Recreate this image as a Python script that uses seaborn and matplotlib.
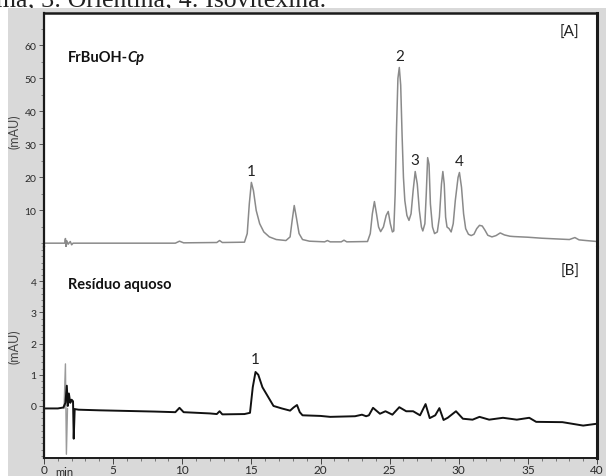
import matplotlib
matplotlib.use("Agg")
import matplotlib.pyplot as plt
from matplotlib.patches import Rectangle
from matplotlib.ticker import MultipleLocator
import seaborn as sns
import pandas as pd

# Panel A: FrBuOH-Cp chromatogram (time in min, absorbance in mAU)
times_a = [0.0, 1.4, 1.5, 1.55, 1.6, 1.65, 1.75, 1.9, 2.0, 2.1, 5.0, 9.5, 9.8, 10.1,
           12.5, 12.7, 12.9, 14.5, 14.7, 14.85, 15.0, 15.15, 15.35, 15.6, 15.9, 16.3,
           16.8, 17.5, 17.8, 17.95, 18.1, 18.25, 18.45, 18.7, 19.2, 20.3, 20.5, 20.7,
           21.5, 21.7, 21.9, 23.4, 23.6, 23.75, 23.9, 24.05, 24.2, 24.35, 24.55, 24.75,
           24.9, 25.05, 25.2, 25.3, 25.4, 25.5, 25.6, 25.7, 25.8, 25.9, 26.0, 26.1,
           26.25, 26.4, 26.55, 26.7, 26.85, 27.0, 27.15, 27.3, 27.4, 27.55, 27.65,
           27.75, 27.85, 27.95, 28.1, 28.25, 28.45, 28.6, 28.75, 28.85, 28.95, 29.05,
           29.15, 29.3, 29.45, 29.6, 29.75, 29.95, 30.05, 30.2, 30.35, 30.5, 30.7,
           30.9, 31.1, 31.3, 31.5, 31.7, 31.9, 32.1, 32.4, 32.7, 33.0, 33.3, 33.7,
           34.0, 35.0, 36.0, 37.0, 38.0, 38.4, 38.7, 39.2, 40.0]
mau_a = [0.1, 0.1, 0.1, 1.5, -1.0, 0.8, -0.2, 0.6, -0.4, 0.1, 0.1, 0.1, 0.7, 0.2,
         0.3, 0.9, 0.3, 0.4, 3.0, 12.0, 18.5, 16.0, 10.0, 6.0, 3.5, 2.0,
         1.2, 0.9, 2.0, 7.0, 11.5, 8.0, 3.0, 1.2, 0.7, 0.5, 0.9, 0.5,
         0.5, 1.0, 0.5, 0.6, 3.0, 9.0, 12.7, 9.0, 5.0, 3.6, 5.0, 8.5,
         9.7, 6.0, 3.5, 3.8, 15.0, 35.0, 50.0, 53.3, 48.0, 33.0, 20.0, 13.0,
         8.5, 7.0, 9.0, 16.0, 21.8, 18.0, 10.0, 5.0, 3.8, 6.0, 15.0,
         26.0, 24.0, 12.0, 5.0, 3.0, 3.5, 8.0, 18.0, 21.8, 18.0, 8.0,
         5.0, 4.5, 3.5, 6.0, 13.0, 20.0, 21.5, 17.0, 9.0, 4.5, 2.8,
         2.4, 2.8, 4.5, 5.5, 5.3, 4.0, 2.5, 2.0, 2.4, 3.2, 2.6, 2.2,
         2.1, 1.9, 1.6, 1.4, 1.2, 1.8, 1.1, 0.9, 0.6]

# Panel B: aqueous residue chromatogram
times_b = [0.0, 1.0, 1.4, 1.55, 1.65, 1.72, 1.8, 1.9, 2.0, 2.1, 2.15, 2.22, 2.5,
           4.0, 6.0, 8.0, 9.5, 9.8, 10.1, 12.0, 12.5, 12.7, 12.9, 14.5, 14.9,
           15.1, 15.3, 15.5, 15.8, 16.2, 16.6, 17.2, 17.8, 18.05, 18.3, 18.5, 18.7,
           20.0, 20.7, 22.5, 23.0, 23.3, 23.5, 23.8, 24.3, 24.7, 25.2, 25.7, 26.2,
           26.7, 27.2, 27.6, 27.9, 28.3, 28.6, 28.9, 29.2, 29.8, 30.3, 31.0, 31.5,
           32.2, 33.2, 34.2, 35.1, 35.6, 37.5, 39.0, 40.0]
mau_b = [-0.08, -0.08, -0.05, 0.1, 0.65, 0.0, 0.4, 0.1, 0.2, 0.15, -1.05, -0.1, -0.12,
         -0.14, -0.16, -0.18, -0.2, -0.06, -0.2, -0.24, -0.26, -0.17, -0.27, -0.26, -0.22,
         0.6, 1.09, 1.0, 0.6, 0.3, 0.0, -0.08, -0.15, -0.05, 0.03, -0.2, -0.3,
         -0.32, -0.35, -0.33, -0.28, -0.33, -0.3, -0.06, -0.25, -0.17, -0.28, -0.04, -0.17,
         -0.17, -0.3, 0.06, -0.39, -0.3, -0.07, -0.45, -0.38, -0.17, -0.41, -0.44, -0.35,
         -0.44, -0.38, -0.44, -0.38, -0.51, -0.52, -0.63, -0.57]

# Injection artefact on the reference channel shown in panel B
times_b_ref = [1.45, 1.55, 1.62, 1.7]
mau_b_ref = [-0.08, 1.35, -1.55, -0.08]

# Numbered peaks: (label, time, height)
peaks_a_labels = ["1", "2", "3", "4"]
peaks_a_times = [15.0, 25.7, 26.85, 30.05]
peaks_a_heights = [18.5, 53.3, 21.8, 21.5]
peaks_b_labels = ["1"]
peaks_b_times = [15.3]
peaks_b_heights = [1.09]

x_ticks = [0, 5, 10, 15, 20, 25, 30, 35, 40]
y_ticks_a = [10, 20, 30, 40, 50, 60]
y_ticks_b = [0, 1, 2, 3, 4]

sns.set_style("ticks")
plt.rcParams["font.family"] = ["Lato", "DejaVu Sans"]

W, H = 606, 477
fig = plt.figure(figsize=(W / 100, H / 100), dpi=100)
fig.patch.set_facecolor("#d9d9d9")

# white page margin above and to the left of the grey panel
top_strip = Rectangle((0, 1 - 8.5 / H), 1, 8.5 / H, transform=fig.transFigure,
                      facecolor="white", edgecolor="none", zorder=0.5)
left_strip = Rectangle((0, 0), 8 / W, 1, transform=fig.transFigure,
                       facecolor="white", edgecolor="none", zorder=0.5)
fig.add_artist(top_strip)
fig.add_artist(left_strip)
cap = fig.text(-4 / W, 1 - 7 / H, "ma; 3: Orientina; 4: Isovitexina.",
               family="Liberation Serif", fontsize=18.5, va="baseline", ha="left",
               color="#222222", zorder=1)
cap.set_clip_path(top_strip)

left = 44 / W
width = (597 - 44) / W
y_mid = 248
ax_a = fig.add_axes([left, 1 - y_mid / H, width, (y_mid - 14) / H])
ax_b = fig.add_axes([left, 1 - 459 / H, width, (459 - y_mid) / H], sharex=ax_a)

df_a = pd.DataFrame({"t": times_a, "mAU": mau_a})
df_b = pd.DataFrame({"t": times_b, "mAU": mau_b})
df_ref = pd.DataFrame({"t": times_b_ref, "mAU": mau_b_ref})

sns.lineplot(data=df_a, x="t", y="mAU", ax=ax_a, color="#8a8a8a", lw=1.1,
             estimator=None)
sns.lineplot(data=df_ref, x="t", y="mAU", ax=ax_b, color="#9a9a9a", lw=1.0,
             estimator=None, sort=False)
sns.lineplot(data=df_b, x="t", y="mAU", ax=ax_b, color="#111111", lw=1.4,
             estimator=None)

ax_a.set_xlim(0, 40)
ax_a.set_ylim(-1.06, 69.8)
ax_b.set_ylim(-1.67, 5.1)

ax_a.set_yticks(y_ticks_a)
ax_a.yaxis.set_minor_locator(MultipleLocator(5))
ax_b.set_yticks(y_ticks_b)
ax_b.yaxis.set_minor_locator(MultipleLocator(0.2))

spine_col = "#1a1a1a"
for ax in (ax_a, ax_b):
    ax.set_facecolor("white")
    ax.set_xlabel("")
    for s in ax.spines.values():
        s.set_color(spine_col)
    ax.spines["left"].set_linewidth(1.6)
    ax.spines["right"].set_linewidth(2.2)
    ax.tick_params(axis="y", which="major", length=3.5, width=0.7, colors="#555555",
                   labelsize=7.5, labelcolor="#2a2a2a", pad=2)
    ax.tick_params(axis="y", which="minor", length=2.5, width=0.6, colors="#777777")

ax_a.spines["bottom"].set_visible(False)
ax_a.spines["top"].set_linewidth(1.8)
ax_b.spines["top"].set_visible(False)
ax_b.spines["bottom"].set_linewidth(1.4)

ax_a.tick_params(axis="x", which="both", bottom=False, labelbottom=False)
ax_b.set_xticks(x_ticks)
ax_b.xaxis.set_minor_locator(MultipleLocator(1))
ax_b.tick_params(axis="x", which="major", length=4, width=0.7, colors="#444444",
                 labelsize=8.5, labelcolor="#2a2a2a", pad=0.5)
ax_b.tick_params(axis="x", which="minor", length=2.5, width=0.6, colors="#666666")

ax_b.text(0.8, -0.038, "min", transform=ax_b.get_xaxis_transform(), ha="left",
          va="top", fontsize=8, color="#2a2a2a")

for ax, yc in ((ax_a, 0.496), (ax_b, 0.53)):
    ax.set_ylabel("(mAU)", fontsize=9, color="#444444")
    ax.yaxis.set_label_coords(-0.042, yc)

# panel titles and tags
title_a = ax_a.text(0.043, 0.812, "FrBuOH-", transform=ax_a.transAxes,
                    fontsize=10.5, fontweight="bold", va="center", ha="left",
                    color="#111111")
ax_a.annotate("Cp", xy=(1, 0), xycoords=title_a, va="bottom", ha="left",
              fontsize=10.5, fontweight="bold", fontstyle="italic", color="#111111")
ax_b.text(0.043, 0.825, "Resíduo aquoso", transform=ax_b.transAxes,
          fontsize=10.5, fontweight="bold", va="center", ha="left", color="#111111")
ax_a.text(0.951, 0.919, "[A]", transform=ax_a.transAxes, fontsize=11,
          ha="center", va="center", color="#222222")
ax_b.text(0.951, 0.886, "[B]", transform=ax_b.transAxes, fontsize=11,
          ha="center", va="center", color="#222222")

for lab, t, h in zip(peaks_a_labels, peaks_a_times, peaks_a_heights):
    ax_a.annotate(lab, xy=(t, h), xytext=(0, 3), textcoords="offset points",
                  ha="center", va="bottom", fontsize=11, color="#222222")
for lab, t, h in zip(peaks_b_labels, peaks_b_times, peaks_b_heights):
    ax_b.annotate(lab, xy=(t, h), xytext=(0, 4), textcoords="offset points",
                  ha="center", va="bottom", fontsize=11, color="#222222")

fig.savefig("out.png", dpi=100, facecolor=fig.get_facecolor())
